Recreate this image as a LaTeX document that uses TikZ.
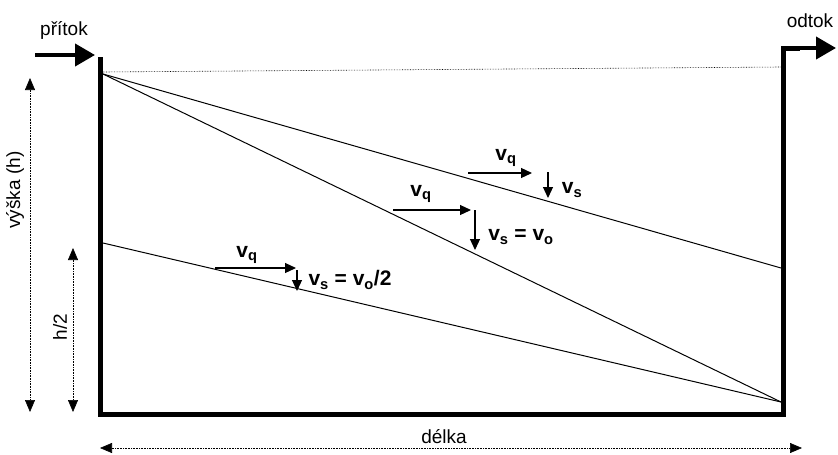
\documentclass[tikz,border=0pt]{standalone}
\usepackage{fontspec}
\setmainfont{Liberation Sans}
\usepackage{tikz}
\usetikzlibrary{arrows.meta,positioning}
\tikzset{
  wall/.style={line width=5pt, line join=miter},
  flow/.style={line width=4pt, -{Triangle[length=20pt, width=22pt]}},
  thin/.style={line width=1pt},
  dim/.style={line width=0.6pt, densely dotted, {Triangle[length=12pt, width=10pt]}-{Triangle[length=12pt, width=10pt]}},
  vel/.style={line width=1.2pt, -{Triangle[length=11pt, width=10pt]}},
  lab/.style={font=\fontsize{19}{21}\selectfont, inner sep=1pt},
  vlab/.style={font=\fontsize{21}{23}\selectfont\bfseries, inner sep=1pt},
}
\begin{document}
\begin{tikzpicture}[x=1pt, y=-1pt]
  \useasboundingbox (0,0) rectangle (838,455);
  % tank
  \coordinate (tl) at (100,57);
  \coordinate (bl) at (100,414);
  \coordinate (br) at (783,414);
  \coordinate (tr) at (783,48);
  \draw[wall] (tl) -- (bl) -- (br) -- (tr) -- (800,48);
  \coordinate (outS) at (798,48);
  \coordinate (outE) at (836,48);
  \draw[flow] (outS) -- (outE);
  \coordinate (inS) at (35,55);
  \coordinate (inE) at (95,55);
  \draw[flow] (inS) -- (inE);
  \node[lab] (pritok) at (64,30) {přítok};
  \node[lab] (odtok) at (810,21) {odtok};
  % water level
  \coordinate (wl) at (103,72);
  \coordinate (wr) at (781,67);
  \draw[densely dotted, line width=0.6pt] (wl) -- (wr);
  % trajectories
  \coordinate (p0) at (103,74);
  \coordinate (p1) at (781,268);
  \coordinate (p2) at (781,402);
  \coordinate (p3) at (103,243);
  \draw[thin] (p0) -- (p1);
  \draw[thin] (p0) -- (p2);
  \draw[thin] (p3) -- (p2);
  % velocities, upper
  \coordinate (a1) at (468,173);
  \coordinate (a2) at (532,173);
  \coordinate (a3) at (548,172);
  \coordinate (a4) at (548,198);
  \draw[vel] (a1) -- (a2);
  \draw[vel] (a3) -- (a4);
  \node[vlab] (vq1) at (506,158) {v\textsubscript{q}};
  \node[vlab] (vs1) at (572,190) {v\textsubscript{s}};
  % velocities, middle
  \coordinate (b1) at (393,210);
  \coordinate (b2) at (471,210);
  \coordinate (b3) at (475,210);
  \coordinate (b4) at (475,250);
  \draw[vel] (b1) -- (b2);
  \draw[vel] (b3) -- (b4);
  \node[vlab] (vq2) at (421,194) {v\textsubscript{q}};
  \node[vlab] (vs2) at (521,237) {v\textsubscript{s} = v\textsubscript{o}};
  % velocities, lower
  \coordinate (c1) at (215,268);
  \coordinate (c2) at (296,268);
  \coordinate (c3) at (297,270);
  \coordinate (c4) at (297,291);
  \draw[vel] (c1) -- (c2);
  \draw[vel] (c3) -- (c4);
  \node[vlab] (vq3) at (247,255) {v\textsubscript{q}};
  \node[vlab] (vs3) at (350,280) {v\textsubscript{s} = v\textsubscript{o}/2};
  % dimensions
  \coordinate (h1) at (30,78);
  \coordinate (h2) at (30,412);
  \draw[dim] (h1) -- (h2);
  \node[lab, rotate=90] (vyska) at (15,190) {výška (h)};
  \coordinate (hh1) at (73,248);
  \coordinate (hh2) at (73,412);
  \draw[dim] (hh1) -- (hh2);
  \node[lab, rotate=90] (hpul) at (60,327) {h/2};
  \coordinate (d1) at (100,448);
  \coordinate (d2) at (802,448);
  \draw[dim] (d1) -- (d2);
  \node[lab] (delka) at (444,437) {délka};
\end{tikzpicture}
\end{document}
